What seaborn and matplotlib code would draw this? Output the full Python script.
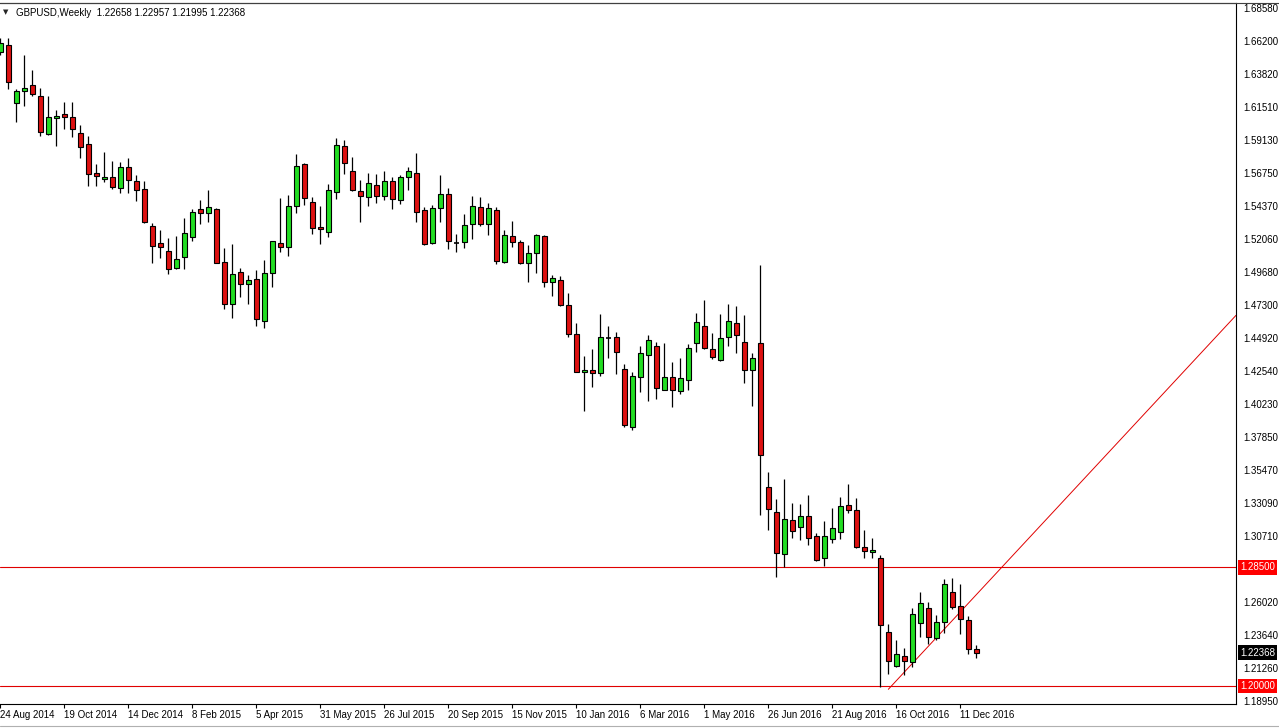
import numpy as np
import pandas as pd
import matplotlib
matplotlib.use("Agg")
import matplotlib.pyplot as plt
import matplotlib.transforms as mtransforms
from matplotlib.lines import Line2D
import seaborn as sns

# --- DATA ---
SYMBOL = "GBPUSD,Weekly"
FIRST_WEEK = "2014-08-24"

OPEN = [1.6545, 1.6593, 1.6175, 1.6265, 1.6304, 1.6227, 1.5953, 1.6067, 1.6096, 1.6075,
        1.5960, 1.5881, 1.5673, 1.5630, 1.5647, 1.5566, 1.5718, 1.5616, 1.5559, 1.5294,
        1.5172, 1.5117, 1.4993, 1.5071, 1.5219, 1.5415, 1.5387, 1.5418, 1.5036, 1.4735,
        1.4964, 1.4878, 1.4914, 1.4613, 1.4957, 1.5172, 1.5143, 1.5437, 1.5738, 1.5466,
        1.5286, 1.5251, 1.5542, 1.5869, 1.5688, 1.5547, 1.5501, 1.5587, 1.5509, 1.5620,
        1.5480, 1.5645, 1.5673, 1.5408, 1.5172, 1.5423, 1.5523, 1.5176, 1.5179, 1.5308,
        1.5430, 1.5308, 1.5410, 1.5040, 1.5224, 1.5179, 1.5028, 1.5100, 1.5224, 1.4892,
        1.4907, 1.4728, 1.4520, 1.4247, 1.4262, 1.4240, 1.4491, 1.4498, 1.4269, 1.3853,
        1.4212, 1.4371, 1.4436, 1.4123, 1.4216, 1.4111, 1.4190, 1.4455, 1.4579, 1.4412,
        1.4338, 1.4498, 1.4598, 1.4462, 1.4262, 1.4455, 1.3424, 1.3244, 1.2944, 1.3187,
        1.3137, 1.3218, 1.3075, 1.2915, 1.3051, 1.3105, 1.3297, 1.3261, 1.2994, 1.2960,
        1.2915, 1.2385, 1.2145, 1.2215, 1.2174, 1.2449, 1.2557, 1.2342, 1.2461, 1.2671,
        1.2573, 1.2473, 1.22658]
HIGH = [1.6643, 1.6641, 1.6275, 1.6521, 1.6413, 1.6282, 1.6229, 1.6127, 1.6186, 1.6186,
        1.6019, 1.5941, 1.5740, 1.5824, 1.5761, 1.5752, 1.5785, 1.5661, 1.5618, 1.5315,
        1.5267, 1.5208, 1.5224, 1.5351, 1.5418, 1.5482, 1.5554, 1.5423, 1.5140, 1.5165,
        1.4997, 1.4945, 1.4981, 1.5052, 1.5190, 1.5494, 1.5518, 1.5812, 1.5745, 1.5501,
        1.5439, 1.5597, 1.5924, 1.5912, 1.5788, 1.5625, 1.5678, 1.5668, 1.5692, 1.5645,
        1.5661, 1.5718, 1.5817, 1.5434, 1.5446, 1.5661, 1.5566, 1.5236, 1.5379, 1.5511,
        1.5501, 1.5460, 1.5430, 1.5267, 1.5332, 1.5195, 1.5160, 1.5238, 1.5231, 1.4945,
        1.4937, 1.4814, 1.4598, 1.4364, 1.4414, 1.4663, 1.4579, 1.4534, 1.4305, 1.4247,
        1.4436, 1.4515, 1.4467, 1.4455, 1.4319, 1.4348, 1.4450, 1.4670, 1.4766, 1.4527,
        1.4663, 1.4735, 1.4722, 1.4658, 1.4384, 1.5016, 1.3531, 1.3338, 1.3481, 1.3309,
        1.3302, 1.3368, 1.3098, 1.3182, 1.3277, 1.3356, 1.3447, 1.3345, 1.3118, 1.3058,
        1.2938, 1.2444, 1.2330, 1.2274, 1.2557, 1.2671, 1.2604, 1.2509, 1.2764, 1.2771,
        1.2728, 1.2502, 1.22957]
LOW = [1.6521, 1.6275, 1.6043, 1.6155, 1.6229, 1.5943, 1.5948, 1.5871, 1.5989, 1.5936,
       1.5785, 1.5584, 1.5584, 1.5609, 1.5563, 1.5534, 1.5534, 1.5477, 1.5320, 1.5028,
       1.5069, 1.4950, 1.4986, 1.4986, 1.5188, 1.5308, 1.5327, 1.5028, 1.4699, 1.4634,
       1.4789, 1.4735, 1.4581, 1.4563, 1.4857, 1.5107, 1.5083, 1.5387, 1.5444, 1.5236,
       1.5165, 1.5215, 1.5487, 1.5666, 1.5547, 1.5327, 1.5441, 1.5463, 1.5482, 1.5420,
       1.5456, 1.5554, 1.5327, 1.5160, 1.5165, 1.5327, 1.5129, 1.5107, 1.5136, 1.5200,
       1.5298, 1.5231, 1.5021, 1.5033, 1.5147, 1.5024, 1.4892, 1.4957, 1.4861, 1.4796,
       1.4725, 1.4503, 1.4247, 1.3973, 1.4144, 1.4223, 1.4348, 1.4233, 1.3858, 1.3834,
       1.4108, 1.4044, 1.4054, 1.4119, 1.4001, 1.4090, 1.4123, 1.4395, 1.4412, 1.4341,
       1.4328, 1.4438, 1.4384, 1.4173, 1.4008, 1.3225, 1.3115, 1.2783, 1.2855, 1.3058,
       1.3046, 1.3010, 1.2898, 1.2860, 1.3027, 1.3053, 1.3237, 1.2991, 1.2915, 1.2915,
       1.1991, 1.2084, 1.2134, 1.2079, 1.2138, 1.2349, 1.2299, 1.2330, 1.2382, 1.2549,
       1.2370, 1.2227, 1.21995]
CLOSE = [1.6605, 1.6325, 1.6263, 1.6282, 1.6239, 1.5967, 1.6075, 1.6084, 1.6079, 1.5993,
         1.5864, 1.5666, 1.5656, 1.5647, 1.5577, 1.5718, 1.5623, 1.5551, 1.5322, 1.5150,
         1.5143, 1.4986, 1.5057, 1.5243, 1.5394, 1.5387, 1.5430, 1.5033, 1.4735, 1.4950,
         1.4878, 1.4907, 1.4627, 1.4957, 1.5186, 1.5143, 1.5437, 1.5723, 1.5494, 1.5279,
         1.5272, 1.5554, 1.5876, 1.5745, 1.5551, 1.5509, 1.5602, 1.5509, 1.5616, 1.5487,
         1.5645, 1.5688, 1.5394, 1.5165, 1.5423, 1.5523, 1.5186, 1.5176, 1.5301, 1.5437,
         1.5308, 1.5423, 1.5043, 1.5231, 1.5183, 1.5028, 1.5100, 1.5231, 1.4892, 1.4921,
         1.4728, 1.4520, 1.4252, 1.4262, 1.4240, 1.4498, 1.4491, 1.4391, 1.3870, 1.4221,
         1.4384, 1.4477, 1.4133, 1.4216, 1.4119, 1.4204, 1.4419, 1.4606, 1.4419, 1.4355,
         1.4491, 1.4613, 1.4513, 1.4262, 1.4348, 1.3653, 1.3266, 1.2951, 1.3194, 1.3108,
         1.3216, 1.3058, 1.2903, 1.3075, 1.3130, 1.3289, 1.3261, 1.2998, 1.2965, 1.2974,
         1.2435, 1.2181, 1.2229, 1.2181, 1.2514, 1.2592, 1.2349, 1.2456, 1.2731, 1.2568,
         1.2478, 1.2266, 1.22368]

# yatay seviyeler ve trend çizgisi (iki nokta, sağa uzatılır)
LEVELS = [1.28500, 1.20000]
TREND_P1 = (111.0, 1.1976)
TREND_P2 = (123.7, 1.2759)

PRICE_TICKS = [1.68580, 1.66200, 1.63820, 1.61510, 1.59130, 1.56750, 1.54370, 1.52060,
               1.49680, 1.47300, 1.44920, 1.42540, 1.40230, 1.37850, 1.35470, 1.33090,
               1.30710, 1.26020, 1.23640, 1.21260, 1.18950]
DATE_TICK_STEP = 8

# --- STİL ---
W, H = 1279, 728
GREEN = "#22dd22"
RED = "#dd1111"
LINE_RED = "#e00000"
FONT = ["Liberation Sans", "DejaVu Sans"]

sns.set_theme(style="white")
plt.rcParams["font.family"] = FONT
plt.rcParams["axes.edgecolor"] = "black"

df = pd.DataFrame({"open": OPEN, "high": HIGH, "low": LOW, "close": CLOSE})
df["date"] = pd.date_range(FIRST_WEEK, periods=len(df), freq="7D")
df["x"] = np.arange(len(df))

fig = plt.figure(figsize=(W / 100, H / 100), dpi=100)
ax = fig.add_axes([0, 1 - 704 / H, 1236 / W, 701 / H])

# fitiller
ax.vlines(df["x"], df["low"], df["high"], color="black", lw=0.9, zorder=2)

# gövdeler
for mask, col in [(df["close"] > df["open"], GREEN), (df["close"] < df["open"], RED)]:
    d = df[mask]
    ax.bar(d["x"], (d["close"] - d["open"]).abs(), bottom=np.minimum(d["open"], d["close"]),
           width=0.58, color=col, edgecolor="black", linewidth=0.8, zorder=3)
flat = df[df["close"] == df["open"]]
ax.hlines(flat["close"], flat["x"] - 0.35, flat["x"] + 0.35, color="black", lw=1.2, zorder=3)

ymin, ymax = 1.18708, 1.68935
xmin, xmax = -0.04, 154.46
ax.set_xlim(xmin, xmax)
ax.set_ylim(ymin, ymax)

for lvl in LEVELS:
    ax.axhline(lvl, color=LINE_RED, lw=0.8, zorder=1)

slope = (TREND_P2[1] - TREND_P1[1]) / (TREND_P2[0] - TREND_P1[0])
ax.plot([TREND_P1[0], xmax], [TREND_P1[1], TREND_P1[1] + slope * (xmax - TREND_P1[0])],
        color=LINE_RED, lw=0.7, zorder=1)

# eksenler
ax.yaxis.tick_right()
ax.set_yticks(PRICE_TICKS)
ax.set_yticklabels([f"{v:.5f}" for v in PRICE_TICKS])
tick_idx = df["x"][::DATE_TICK_STEP]
ax.set_xticks(tick_idx)
ax.set_xticklabels([f"{d.day} {d.strftime('%b %Y')}" for d in df["date"][::DATE_TICK_STEP]])
plt.setp(ax.get_xticklabels(), ha="left")
ax.tick_params(axis="y", which="both", right=True, left=False, length=3, width=0.8,
               pad=2.5, labelsize=7, colors="black")
ax.tick_params(axis="x", which="both", bottom=True, length=3, width=0.8,
               pad=1.5, labelsize=7, colors="black")
ax.grid(False)
sns.despine(ax=ax, top=False, right=False, left=True, bottom=False)
for s in ["top", "right", "bottom"]:
    ax.spines[s].set_linewidth(0.8)
    ax.spines[s].set_color("black")

# sağ taraftaki vurgulu fiyat etiketleri
blend = mtransforms.blended_transform_factory(ax.transAxes, ax.transData)
for lvl, fc in [(LEVELS[0], "#ff0000"), (LEVELS[1], "#ff0000"), (CLOSE[-1], "black")]:
    ax.text(1240 / 1236, lvl, f"{lvl:.5f}", transform=blend, ha="left", va="center",
            color="white", fontsize=7, clip_on=False, zorder=6,
            bbox=dict(boxstyle="square,pad=0.25", fc=fc, ec="none"))

# başlık
fig.text(6 / W, 1 - 12.5 / H, "▼", fontsize=5, family="DejaVu Sans", ha="center", va="center")
fig.text(16 / W, 1 - 13 / H,
         f"{SYMBOL}  {OPEN[-1]:.5f} {HIGH[-1]:.5f} {LOW[-1]:.5f} {CLOSE[-1]:.5f}",
         fontsize=7, ha="left", va="center", color="black")

# pencere çerçevesi
fig.add_artist(Line2D([0, 1], [1 - 3 / H] * 2, color="#404040", lw=0.8))
fig.add_artist(Line2D([0, 1], [1 - 726 / H] * 2, color="#b0b0b0", lw=0.8))

fig.savefig("out.png", dpi=100)
